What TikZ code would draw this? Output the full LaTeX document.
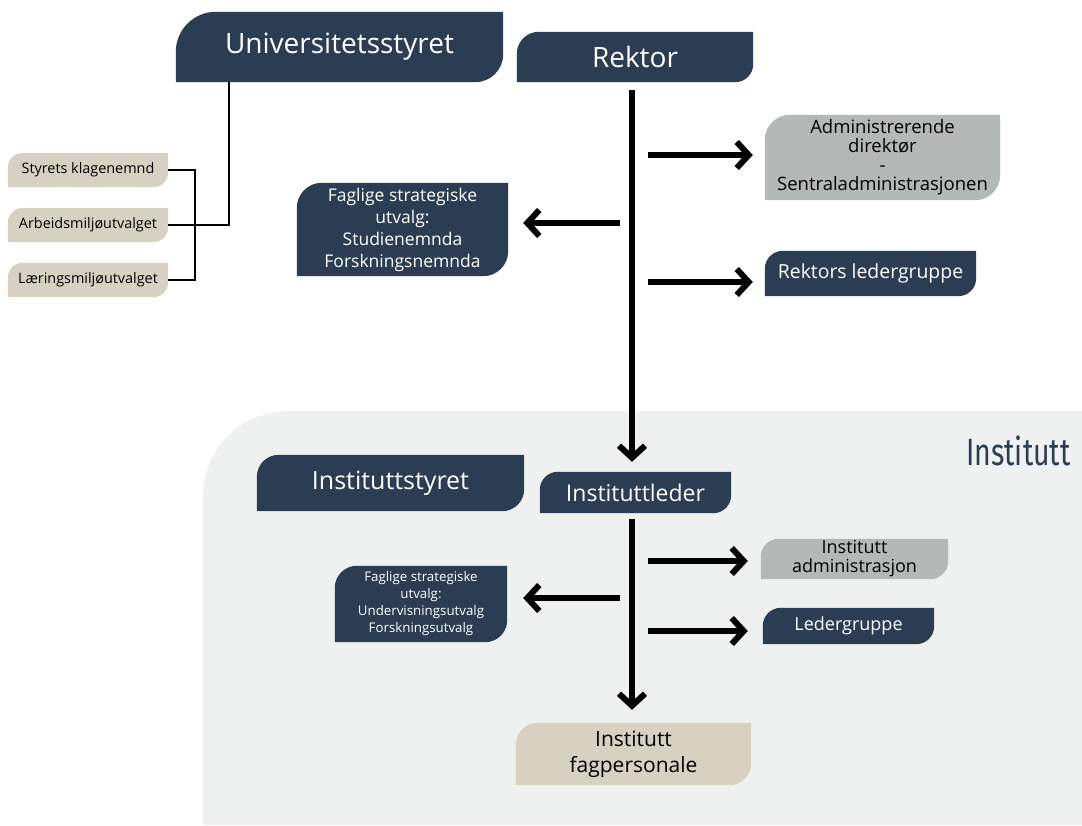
\documentclass[tikz,border=0pt]{standalone}
\usepackage{fontspec}
\usepackage{graphicx}
\setmainfont{Open Sans}
\newfontfamily\titlefont{Fira Sans}
\usetikzlibrary{arrows.meta,backgrounds}

\definecolor{navy}{RGB}{43,61,82}
\definecolor{sand}{RGB}{214,209,192}
\definecolor{stone}{RGB}{180,184,182}
\definecolor{pale}{RGB}{239,241,240}

% box with rounded top-left and bottom-right corners
\newcommand{\leaf}[4]{%
  \fill[#2] (#1.south west) -- ([yshift=-#3]#1.north west)
    arc[start angle=180,end angle=90,radius=#3] -- (#1.north east)
    -- ([yshift=#4]#1.south east)
    arc[start angle=0,end angle=-90,radius=#4] -- cycle;}

\begin{document}
\begin{tikzpicture}[x=1pt,y=-1pt]
    \tikzstyle{box}=[inner sep=0pt, align=center]
    \tikzstyle{navy box}=[box, text=white]
    \tikzstyle{light box}=[box, text=black]
    \tikzstyle{thin line}=[line width=1.6pt]
    \tikzstyle{big arrow}=[line width=6pt, -{Straight Barb[length=12pt,width=26pt]}]

    \useasboundingbox (0,0) rectangle (1082,825);

    % top level
    \node[navy box, minimum width=327pt, minimum height=70pt, font=\fontsize{28}{30}\selectfont] (uni) at (339.5,47) {Universitetsstyret};
    \node[navy box, minimum width=236pt, minimum height=50pt, font=\fontsize{28}{30}\selectfont] (rektor) at (635,57) {Rektor};

    \foreach \name/\y/\txt in {klage/170/Styrets klagenemnd, arbeid/225/Arbeidsmiljøutvalget, laering/280/Læringsmiljøutvalget}
        \node[light box, minimum width=160pt, minimum height=34pt, font=\fontsize{14.4}{16}\selectfont] (\name) at (88,\y) {\txt};

    \node[light box, minimum width=235pt, minimum height=85pt, font=\fontsize{18.5}{19}\selectfont] (admin) at (882.5,157.5)
        {Administrerende\\direktør\\-\\Sentraladministrasjonen};
    \node[navy box, minimum width=211pt, minimum height=93pt, font=\fontsize{17.5}{22}\selectfont] (fag1) at (402.5,229.5)
        {Faglige strategiske\\utvalg:\\Studienemnda\\Forskningsnemnda};
    \node[navy box, minimum width=211pt, minimum height=45pt, font=\fontsize{19.4}{22}\selectfont] (ledergr) at (870.5,273.5) {Rektors ledergruppe};

    % institutt level
    \node[anchor=north east, text=navy, font=\titlefont\fontsize{38}{40}\selectfont] (inst) at (1074,432) {\scalebox{0.75}[1]{Institutt}};
    \node[navy box, minimum width=267pt, minimum height=56pt, font=\fontsize{25}{28}\selectfont] (instyr) at (390.5,483) {Instituttstyret};
    \node[navy box, minimum width=191pt, minimum height=41pt, font=\fontsize{23}{26}\selectfont] (inleder) at (635.5,492.5) {Instituttleder};
    \node[light box, minimum width=187pt, minimum height=40pt, font=\fontsize{18}{19}\selectfont] (inadm) at (854.5,559) {Institutt\\administrasjon};
    \node[navy box, minimum width=171pt, minimum height=36pt, font=\fontsize{18}{20}\selectfont] (ledergruppe) at (848.5,626) {Ledergruppe};
    \node[navy box, minimum width=172pt, minimum height=76pt, font=\fontsize{13.3}{17}\selectfont] (fag2) at (421,604)
        {Faglige strategiske\\utvalg:\\Undervisningsutvalg\\Forskningsutvalg};
    \node[light box, minimum width=235pt, minimum height=62pt, font=\fontsize{21}{26}\selectfont] (fagpers) at (633.5,754) {Institutt\\fagpersonale};

    \begin{scope}[on background layer]
        \fill[pale] (1082,825) -- (203,825) -- (203,496)
            arc[start angle=180,end angle=90,radius=85pt] -- (1082,411) -- cycle;
        \leaf{uni}{navy}{40pt}{28pt}
        \leaf{rektor}{navy}{22pt}{18pt}
        \foreach \name in {klage,arbeid,laering}
            {\leaf{\name}{sand}{15pt}{15pt}}
        \leaf{admin}{stone}{25pt}{25pt}
        \leaf{fag1}{navy}{25pt}{25pt}
        \leaf{ledergr}{navy}{18pt}{18pt}
        \leaf{instyr}{navy}{22pt}{22pt}
        \leaf{inleder}{navy}{18pt}{18pt}
        \leaf{inadm}{stone}{18pt}{18pt}
        \leaf{ledergruppe}{navy}{18pt}{18pt}
        \leaf{fag2}{navy}{22pt}{22pt}
        \leaf{fagpers}{sand}{22pt}{22pt}
    \end{scope}

    % board committees
    \draw[thin line] ([xshift=53pt]uni.south west) |- (arbeid.east);
    \draw[thin line] (klage.east) -- ++(27,0) |- (laering.east);

    % rektor line
    \coordinate (r0) at (632,90);
    \coordinate (r1) at (648,155);
    \coordinate (r2) at (620,223);
    \coordinate (r3) at (648,282);
    \draw[big arrow, shorten >=10pt] (r0) -- (r0 |- inleder.north);
    \draw[big arrow, shorten >=12pt] (r1) -- (r1 -| admin.west);
    \draw[big arrow, shorten >=15pt] (r2) -- (r2 -| fag1.east);
    \draw[big arrow, shorten >=12pt] (r3) -- (r3 -| ledergr.west);

    % instituttleder line
    \coordinate (i0) at (632,519);
    \coordinate (i1) at (648,561);
    \coordinate (i2) at (620,598);
    \coordinate (i3) at (648,631);
    \draw[big arrow, shorten >=13pt] (i0) -- (i0 |- fagpers.north);
    \draw[big arrow, shorten >=13pt] (i1) -- (i1 -| inadm.west);
    \draw[big arrow, shorten >=16pt] (i2) -- (i2 -| fag2.east);
    \draw[big arrow, shorten >=15pt] (i3) -- (i3 -| ledergruppe.west);
\end{tikzpicture}
\end{document}
